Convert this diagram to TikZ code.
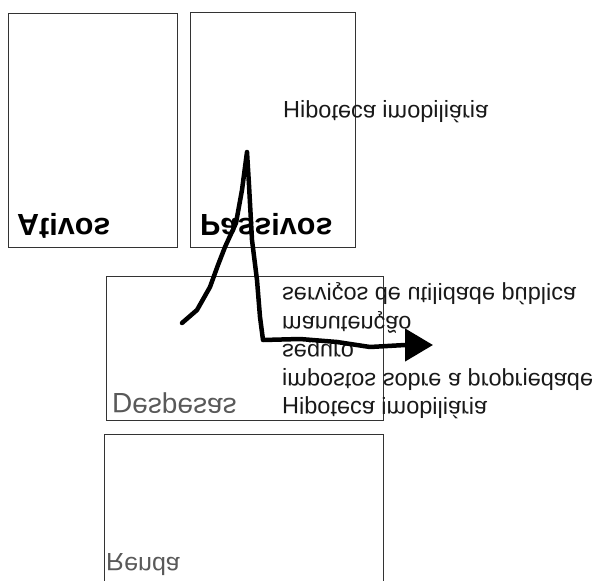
\documentclass[tikz,border=0pt]{standalone}
\usepackage{fontspec}
\setmainfont{Liberation Sans}
\usetikzlibrary{positioning, arrows.meta}

\makeatletter
\newsavebox\glyphbox
% capitals turn about their own middle, small letters about the x-height band
\newcommand\flipcap[1]{\sbox\glyphbox{#1}\raisebox{\ht\glyphbox}{\scalebox{1}[-1]{\usebox\glyphbox}}}
\newcommand\fliplow[1]{\sbox\glyphbox{#1}\raisebox{\fontdimen5\font}{\scalebox{1}[-1]{\usebox\glyphbox}}}
\newcommand\flipword[1]{\flip@chars#1\@nil}
\def\flip@chars#1{\ifx#1\@nil\else\flip@one{#1}\expandafter\flip@chars\fi}
\def\flip@one#1{\ifx#1i#1\else\ifnum\lccode`#1=`#1 \fliplow{#1}\else\flipcap{#1}\fi\fi}
\newcommand\flipline[1]{\flip@words#1 \@nil}
\def\flip@words#1 #2\@nil{\flipword{#1}\if\relax\detokenize{#2}\relax\else\ \flip@words#2\@nil\fi}
\makeatother

\tikzset{
  panel/.style={rectangle, draw=black!80, line width=1.2pt, inner sep=0pt,
    anchor=north west},
  heading/.style={anchor=base west, inner sep=0pt, text=black,
    font=\fontsize{30.5}{33}\selectfont\bfseries},
  subheading/.style={anchor=base west, inner sep=0pt, text=black!65,
    font=\fontsize{28}{30}\selectfont},
  entry/.style={anchor=base west, inner sep=0pt, text=black!90,
    font=\fontsize{23.5}{26}\selectfont},
  scribble/.style={line width=4.5pt, line cap=round, line join=round,
    -{Triangle[length=28pt, width=32pt]}},
}

\begin{document}
\begin{tikzpicture}[x=1pt, y=-1pt]
  \clip (0,0) rectangle (596,580);

  % Boxes
  \node[panel, minimum width=169pt, minimum height=234pt] (ativos) at (8,13) {};
  \node[panel, minimum width=165pt, minimum height=235pt] (passivos) at (190,12) {};
  \node[panel, minimum width=277pt, minimum height=144pt] (despesas) at (106,276) {};
  \node[panel, minimum width=279pt, minimum height=170pt] (renda) at (104,434) {};

  % Box titles
  \node[heading] (ativos title) at (17,235) {\flipline{Ativos}};
  \node[heading] (passivos title) at (200,235) {\flipline{Passivos}};
  \node[subheading] (despesas title) at (112,413) {\flipline{Despesas}};
  \node[subheading, font=\fontsize{25}{27}\selectfont] (renda title) at (106,571) {\flipline{Renda}};

  % Entries
  \node[entry] (hipoteca passivo) at (283,118) {\flipline{Hipoteca imobiliária}};
  \node[entry] (servicos) at (282,300) {\flipline{serviços de utilidade pública}};
  \node[entry] (manutencao) at (282,328.5) {\flipline{manutenção}};
  \node[entry] (seguro) at (282,357) {\flipline{seguro}};
  \node[entry] (impostos) at (282,385.5) {\flipline{impostos sobre a propriedade}};
  \node[entry] (hipoteca despesa) at (282,414) {\flipline{Hipoteca imobiliária}};

  % Hand-drawn arrow
  \coordinate (scrawl start) at (182,323);
  \coordinate (scrawl end) at (433,345);
  \draw[scribble] (scrawl start) -- (197,310) -- (210,287) -- (218,265)
    -- (225,247) -- (236,223) -- (242,190) -- (247,152) -- (249,185)
    -- (252,240) -- (257,280) -- (260,317) -- (263,340) -- (300,339)
    -- (337,342) -- (370,347) -- (405,345) -- (scrawl end);
\end{tikzpicture}
\end{document}
